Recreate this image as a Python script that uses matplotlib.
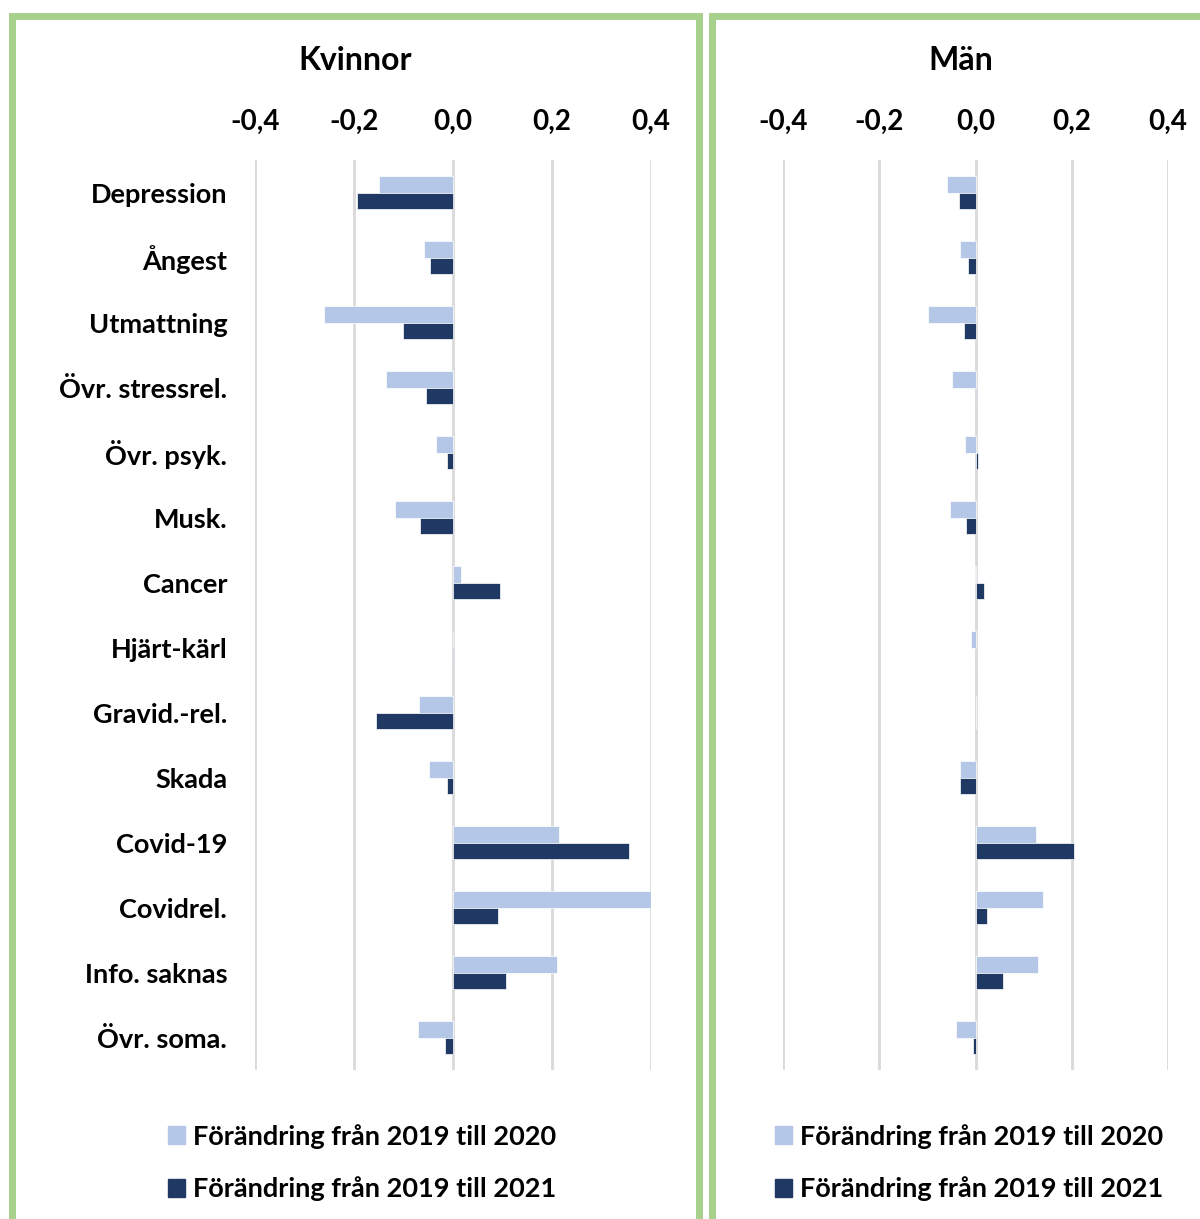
import matplotlib.pyplot as plt
from matplotlib.patches import Rectangle, Patch
import numpy as np

plt.rcParams['font.family'] = ['Lato', 'DejaVu Sans']
plt.rcParams['font.weight'] = 'bold'

categories = ["Depression", "Ångest", "Utmattning", "Övr. stressrel.", "Övr. psyk.",
              "Musk.", "Cancer", "Hjärt-kärl", "Gravid.-rel.", "Skada", "Covid-19",
              "Covidrel.", "Info. saknas", "Övr. soma."]

kvinnor_2020 = [-0.150, -0.058, -0.261, -0.136, -0.034, -0.118, 0.016, 0.0,
                -0.068, -0.049, 0.214, 0.400, 0.211, -0.071]
kvinnor_2021 = [-0.193, -0.046, -0.102, -0.054, -0.013, -0.066, 0.095, 0.003,
                -0.155, -0.013, 0.355, 0.090, 0.107, -0.017]

man_2020 = [-0.059, -0.033, -0.099, -0.049, -0.021, -0.053, -0.001, -0.009,
            0.0, -0.033, 0.126, 0.141, 0.129, -0.040]
man_2021 = [-0.035, -0.015, -0.023, 0.003, 0.006, -0.020, 0.017, -0.001,
            0.0, -0.033, 0.205, 0.024, 0.057, -0.006]

ticks = [-0.4, -0.2, 0.0, 0.2, 0.4]
tick_labels = ["-0,4", "-0,2", "0,0", "0,2", "0,4"]
legend_labels = ["Förändring från 2019 till 2020", "Förändring från 2019 till 2021"]

c2020 = "#B4C7E7"
c2021 = "#203864"
green = "#A9D18E"

W, H = 1200, 1219
fig = plt.figure(figsize=(W / 100, H / 100), dpi=100)

# panel frames
lw = 7 * 72 / 100
fig.patches.append(Rectangle((11.5 / W, -0.05), (698.5 - 11.5) / W, 1 - 16 / H + 0.05,
                             transform=fig.transFigure, fill=False, ec=green, lw=lw))
fig.patches.append(Rectangle((711.5 / W, -0.05), 0.5, 1 - 16 / H + 0.05,
                             transform=fig.transFigure, fill=False, ec=green, lw=lw))

def panel(x0, x1, title, tx, v20, v21, show_labels, leg_x):
    ax = fig.add_axes([x0 / W, 1 - 1070 / H, (x1 - x0) / W, 910 / H])
    y = np.arange(len(categories))
    h = 0.26
    ax.barh(y - h / 2, v20, height=h, color=c2020, edgecolor="white", linewidth=0.5, zorder=3)
    ax.barh(y + h / 2, v21, height=h, color=c2021, edgecolor="white", linewidth=0.5, zorder=3)
    ax.set_xlim(-0.4, 0.4)
    ax.set_ylim(len(categories) - 0.5, -0.5)
    ax.set_xticks(ticks)
    ax.set_xticklabels(tick_labels, fontsize=20, fontweight='bold')
    ax.xaxis.tick_top()
    ax.tick_params(axis='x', length=0, pad=18)
    ax.set_yticks(y)
    if show_labels:
        ax.set_yticklabels(categories, fontsize=19.5, fontweight='bold')
    else:
        ax.set_yticklabels([])
    ax.tick_params(axis='y', length=0, pad=20)
    ax.grid(axis='x', color="#D9D9D9", linewidth=2, zorder=0)
    for s in ax.spines.values():
        s.set_visible(False)
    fig.text(tx / W, 1 - 61 / H, title, ha='center', va='center', fontsize=23, fontweight='bold')
    handles = [Patch(color=c2020), Patch(color=c2021)]
    fig.legend(handles, legend_labels, loc='upper left', bbox_to_anchor=(leg_x / W, 1 - 1124 / H),
               frameon=False, fontsize=19.5, handlelength=0.63, handleheight=0.63,
               handletextpad=0.28, labelspacing=1.02, borderpad=0, borderaxespad=0)
    return ax

panel(255, 651, "Kvinnor", 355, kvinnor_2020, kvinnor_2021, True, 168)
panel(783, 1168, "Män", 961, man_2020, man_2021, False, 775)

fig.savefig("out.png", dpi=100)
